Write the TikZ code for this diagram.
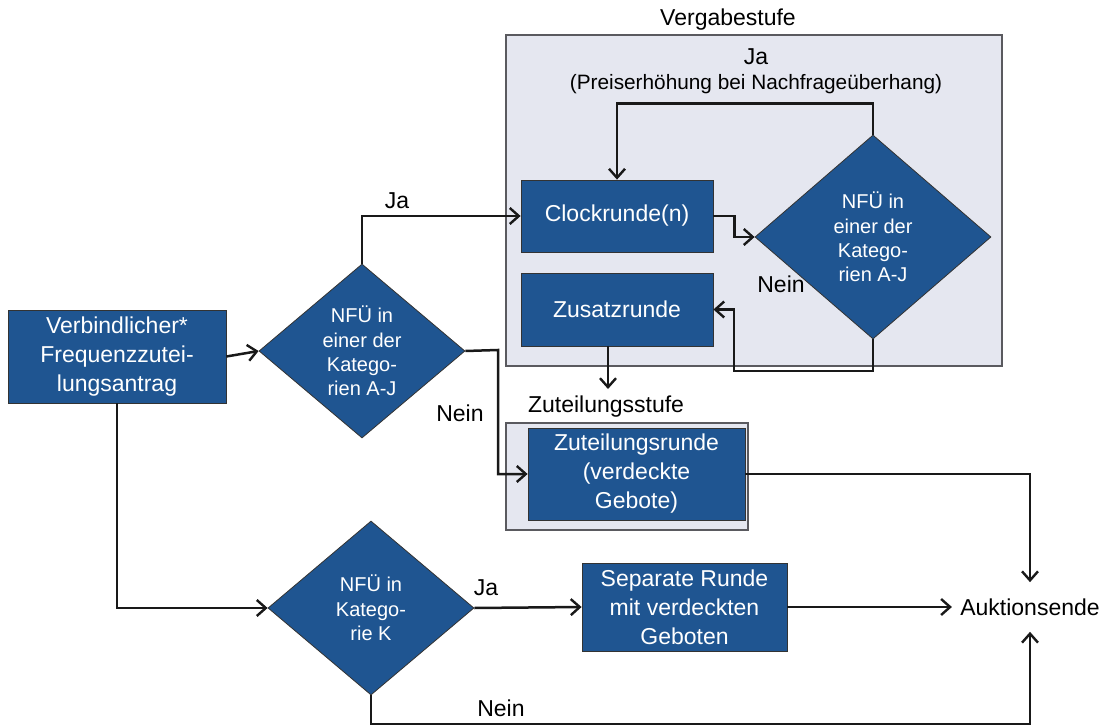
\documentclass[tikz,border=0pt]{standalone}
\usepackage{fontspec}
\setmainfont{Liberation Sans}
\usepackage{tikz}
\usetikzlibrary{shapes.geometric, arrows.meta}
\definecolor{boxblue}{RGB}{31,85,145}
\definecolor{stagebg}{RGB}{229,231,240}
\definecolor{stageline}{RGB}{90,90,95}
\newcommand{\txt}{\fontsize{11.5}{14.5}\selectfont}
\newcommand{\dtxt}{\fontsize{10}{12.2}\selectfont}
\tikzset{
    block/.style={draw=black!80, fill=boxblue, text=white, align=center, inner sep=0pt, font=\txt},
    decision/.style={diamond, draw=black!80, fill=boxblue, text=white, align=center, inner sep=0pt, font=\dtxt},
    stage/.style={draw=stageline, fill=stagebg, line width=0.6pt},
    lbl/.style={font=\txt, inner sep=0pt},
    arr/.style={draw=black!90, line width=1.25pt, -{Straight Barb[length=4.5pt,width=8pt,line width=1.2pt]}},
}

\begin{document}
\begin{tikzpicture}[x=0.5pt, y=-0.5pt]
            \useasboundingbox (0,0) rectangle (1103,727);

            % Stufen
            \draw[stage] (506,35) rectangle (1002,366);
            \node[lbl] (vgtitle) at (728,20) {Vergabestufe};
            \node[lbl] (jaloop) at (756,57) {Ja};
            \node[lbl, font=\fontsize{10.4}{12}\selectfont] (preis) at (756,84) {(Preiserhöhung bei Nachfrageüberhang)};
            \draw[stage] (506,423) rectangle (748,530);
            \node[lbl] (zttitle) at (606,407) {Zuteilungsstufe};

            \node[lbl] (nein2) at (781,284) {Nein};

            \node[block, minimum width=109pt, minimum height=46.5pt] (antrag) at (117,356.5) {Verbindlicher*\\Frequenzzutei-\\lungsantrag};
            \node[decision, minimum width=103pt, minimum height=87pt, aspect=1.18] (nfuA) at (362,351) {NFÜ in\\einer der\\Katego-\\rien A-J};
            \node[block, minimum width=96pt, minimum height=36pt] (clock) at (617,216) {Clockrunde(n)};
            \node[block, minimum width=96pt, minimum height=36.5pt] (zusatz) at (617,309.5) {Zusatzrunde};
            \node[decision, minimum width=118pt, minimum height=102pt, aspect=1.16] (nfuB) at (873,237) {NFÜ in\\einer der\\Katego-\\rien A-J};
            \node[block, minimum width=108.5pt, minimum height=46pt] (zuteil) at (636.5,474) {Zuteilungsrunde\\(verdeckte\\Gebote)};
            \node[decision, minimum width=103pt, minimum height=87pt, aspect=1.18] (nfuK) at (371,608) {NFÜ in\\Katego-\\rie K};
            \node[block, minimum width=102.5pt, minimum height=44pt] (separat) at (684.5,607) {Separate Runde\\mit verdeckten\\Geboten};
            \node[lbl, inner xsep=4pt, inner ysep=8pt] (ende) at (1030,607) {Auktionsende};

            \coordinate (neinknick) at (498,350);
            \coordinate (rueck) at (734,371);
            \coordinate (zsende) at (608,389);
            \coordinate (unten) at (700,724);

            \draw[arr] (antrag.east) -- (nfuA.west);
            \draw[arr] (nfuA.north) |- (clock.west);
            \draw[arr] (nfuA.east) -- (neinknick) |- (zuteil.west);
            \draw[arr] (clock.east) -- ++(21,0) |- (nfuB.west);
            \draw[arr] (nfuB.north) -- ++(0,-31) -| (clock.north);
            \draw[arr] (nfuB.south) |- (rueck) |- (zusatz.east);
            \draw[arr] (zusatz.south -| zsende) -- (zsende);
            \draw[arr] (zuteil.east) -| (ende.north);
            \draw[arr] (antrag.south) |- (nfuK.west);
            \draw[arr] (nfuK.east) -- (separat.west);
            \draw[arr] (separat.east) -- (ende.west);
            \draw[arr] (nfuK.south) |- (unten) -| (ende.south);

            \node[lbl] (jaA) at (397,201) {Ja};
            \node[lbl] (neinA) at (460,413) {Nein};
            \node[lbl] (jaK) at (486,588) {Ja};
            \node[lbl] (neinK) at (501,708) {Nein};
        \end{tikzpicture}
\end{document}
